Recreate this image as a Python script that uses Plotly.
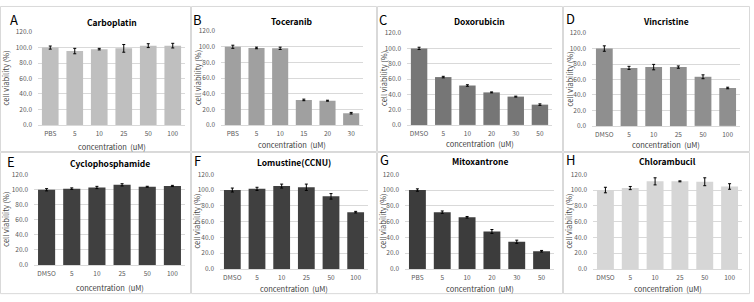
import plotly.graph_objects as go

W, H = 754, 302

letters = ["A", "B", "C", "D", "E", "F", "G", "H"]
titles = ["Carboplatin", "Toceranib", "Doxorubicin", "Vincristine",
          "Cyclophosphamide", "Lomustine(CCNU)", "Mitoxantrone", "Chlorambucil"]
cats_A = ["PBS", "5", "10", "25", "50", "100"]
cats_B = ["PBS", "5", "10", "15", "20", "30"]
cats_C = ["DMSO", "5", "10", "20", "30", "50"]
cats_D = ["DMSO", "5", "10", "25", "50", "100"]
cats_E = ["DMSO", "5", "10", "25", "50", "100"]
cats_F = ["DMSO", "5", "10", "25", "50", "100"]
cats_G = ["PBS", "5", "10", "20", "30", "50"]
cats_H = ["DMSO", "5", "10", "25", "50", "100"]

vals_A = [100.0, 95.5, 98.0, 99.0, 102.5, 102.5]
vals_B = [100.0, 98.5, 98.0, 32.0, 31.0, 15.0]
vals_C = [100.0, 62.5, 51.5, 42.5, 37.0, 26.5]
vals_D = [100.0, 75.0, 76.0, 76.0, 63.5, 49.0]
vals_E = [99.5, 101.0, 102.5, 106.0, 103.5, 104.5]
vals_F = [100.0, 101.5, 105.0, 103.5, 92.0, 72.0]
vals_G = [100.0, 72.0, 65.5, 47.5, 34.5, 22.5]
vals_H = [100.0, 102.5, 111.0, 111.0, 110.5, 104.5]

err_A = [2.0, 3.5, 1.0, 5.0, 2.5, 3.0]
err_B = [2.0, 1.0, 1.5, 1.0, 0.6, 1.0]
err_C = [1.5, 1.0, 1.0, 0.6, 0.6, 1.0]
err_D = [3.5, 2.0, 3.5, 1.5, 2.5, 1.0]
err_E = [1.5, 1.0, 1.5, 1.5, 0.6, 0.8]
err_F = [2.5, 2.0, 2.5, 4.0, 3.5, 1.0]
err_G = [1.5, 1.5, 1.0, 2.5, 2.0, 1.0]
err_H = [3.5, 2.0, 4.5, 0.6, 5.0, 3.5]

cats = [cats_A, cats_B, cats_C, cats_D, cats_E, cats_F, cats_G, cats_H]
vals = [vals_A, vals_B, vals_C, vals_D, vals_E, vals_F, vals_G, vals_H]
errs = [err_A, err_B, err_C, err_D, err_E, err_F, err_G, err_H]
colors = ["#bfbfbf", "#a0a0a0", "#767676", "#8f8f8f",
          "#404040", "#404040", "#3c3c3c", "#d6d6d6"]

# panel frames and plot areas in pixels (x0, y0, x1, y1) from top-left
panels = [(0, 0, 191, 151), (191, 0, 377, 151), (377, 0, 563, 151), (563, 0, 750, 151),
          (0, 151, 191, 298), (191, 151, 377, 298), (377, 151, 563, 298), (563, 151, 750, 298)]
plots = [(38, 27, 185, 123), (221, 26, 363, 123), (407, 28, 552, 123), (592, 28, 740, 124),
         (34, 174, 185, 268), (220, 174, 368, 272), (405, 174, 554, 272), (593, 174, 742, 272)]
title_y = [17, 15, 15, 15, 162, 161, 160, 160]
letter_xy = [(14, 14), (197, 14), (383, 14), (570, 13), (11, 161), (197, 160), (384, 159), (570, 159)]
xtitle_y = [145, 143, 142, 143, 291, 292, 292, 292]

FONT = "Noto Sans CJK KR, Open Sans, sans-serif"
fig = go.Figure()
annotations = []
shapes = []

def px(x):
    return x / W

def py(y):
    return 1 - y / H

for i in range(8):
    n = "" if i == 0 else str(i + 1)
    fig.add_trace(go.Bar(
        x=cats[i], y=vals[i],
        marker=dict(color=colors[i], line=dict(width=0)),
        error_y=dict(type="data", array=errs[i], color="#000000", thickness=1, width=1.5),
        xaxis="x" + n, yaxis="y" + n, showlegend=False,
    ))
    x0, y0, x1, y1 = plots[i]
    fig.update_layout(**{
        "xaxis" + n: dict(domain=[px(x0), px(x1)], anchor="y" + n, type="category",
                          showgrid=False, showline=True, linecolor="#d9d9d9", linewidth=1,
                          ticks="", ticklabelstandoff=2,
                          tickfont=dict(size=6.5, color="#595959", family=FONT),
                          fixedrange=True),
        "yaxis" + n: dict(domain=[py(y1), py(y0)], anchor="x" + n, range=[0, 120],
                          dtick=20, tickformat=".1f", showgrid=True, gridcolor="#d9d9d9",
                          gridwidth=1, zeroline=False, showline=False, ticks="",
                          ticklabelstandoff=5,
                          tickfont=dict(size=6.5, color="#595959", family=FONT),
                          fixedrange=True),
    })
    # panel frame
    p0, q0, p1, q1 = panels[i]
    shapes.append(dict(type="rect", xref="paper", yref="paper",
                       x0=px(p0 + 0.5), x1=px(p1 - 0.5), y0=py(q1 - 0.5), y1=py(q0 + 0.5),
                       line=dict(color="#d9d9d9", width=1)))
    cx = (x0 + x1) / 2
    annotations.append(dict(text="<b>" + titles[i] + "</b>", x=px(cx), y=py(title_y[i]),
                            xref="paper", yref="paper", showarrow=False,
                            xanchor="center", yanchor="middle",
                            font=dict(size=8.5, color="#000000", family=FONT)))
    annotations.append(dict(text=letters[i], x=px(letter_xy[i][0]), y=py(letter_xy[i][1]),
                            xref="paper", yref="paper", showarrow=False,
                            xanchor="center", yanchor="middle",
                            font=dict(size=13, color="#000000", family=FONT)))
    annotations.append(dict(text="concentration  (uM)", x=px(cx), y=py(xtitle_y[i]),
                            xref="paper", yref="paper", showarrow=False,
                            xanchor="center", yanchor="middle",
                            font=dict(size=7.5, color="#404040", family=FONT)))
    annotations.append(dict(text="cell viability (%)", x=px(p0 + 6), y=py((y0 + y1) / 2),
                            xref="paper", yref="paper", showarrow=False, textangle=-90,
                            xanchor="center", yanchor="middle",
                            font=dict(size=7.5, color="#404040", family=FONT)))

fig.update_layout(
    width=W, height=H, margin=dict(l=0, r=0, t=0, b=0),
    paper_bgcolor="#ffffff", plot_bgcolor="#ffffff",
    bargap=0.32, annotations=annotations, shapes=shapes,
    font=dict(family=FONT),
)

fig.write_html("out.html")
